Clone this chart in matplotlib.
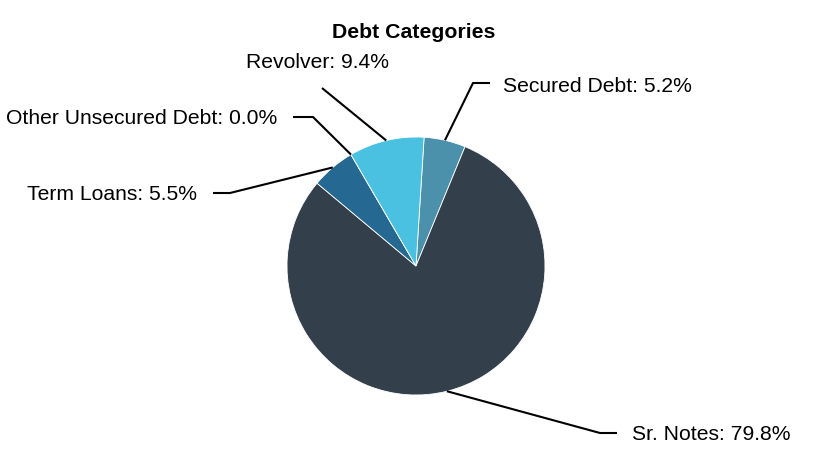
import numpy as np
import matplotlib
matplotlib.use("Agg")
import matplotlib.pyplot as plt

plt.rcParams['font.family'] = ['Liberation Sans', 'DejaVu Sans']

# data
categories = ['Secured Debt', 'Sr. Notes', 'Term Loans', 'Other Unsecured Debt', 'Revolver']
shares = [5.2, 79.8, 5.5, 0.0, 9.4]
colors = ['#4b91ab', '#333f4b', '#256891', '#2a5a7a', '#4bc1e1']

# layout in pixel units (figure is 832x450, y measured upward)
W, H = 832, 450
cx, cy, r = 416, H - 266, 129
start = 86.4

# elbow point, end of horizontal stub, text anchor, text alignment
label_layout = {
    'Secured Debt': ((473, H - 83), (490, H - 83), (503, H - 87), 'left'),
    'Sr. Notes': ((600, H - 433), (617, H - 433), (632, H - 435), 'left'),
    'Term Loans': ((230, H - 193), (213, H - 193), (197, H - 195), 'right'),
    'Other Unsecured Debt': ((313, H - 117), (293, H - 117), (277, H - 119), 'right'),
    'Revolver': ((322, H - 88), (322, H - 88), (318, H - 62), 'center'),
}

fig = plt.figure(figsize=(W / 100, H / 100), dpi=100)
ax = fig.add_axes([0, 0, 1, 1])

wedges, _ = ax.pie(shares, colors=colors, startangle=start, counterclock=False,
                   center=(cx, cy), radius=r,
                   wedgeprops=dict(edgecolor='white', linewidth=0.6))

ax.set_xlim(0, W)
ax.set_ylim(0, H)
ax.set_aspect('auto')
ax.axis('off')

for w, name, val in zip(wedges, categories, shares):
    mid = np.deg2rad((w.theta1 + w.theta2) / 2)
    x0 = cx + r * np.cos(mid)
    y0 = cy + r * np.sin(mid)
    elbow, stub, txt, ha = label_layout[name]
    ax.plot([x0, elbow[0], stub[0]], [y0, elbow[1], stub[1]],
            color='black', lw=1.5, solid_capstyle='butt')
    ax.text(txt[0], txt[1], f'{name}: {val:.1f}%', ha=ha, va='center',
            fontsize=15.2, color='black')

ax.text(W / 2 - 2, H - 33, 'Debt Categories', ha='center', va='center',
        fontsize=15.3, fontweight='bold', color='black')

fig.savefig('out.png', dpi=100)
